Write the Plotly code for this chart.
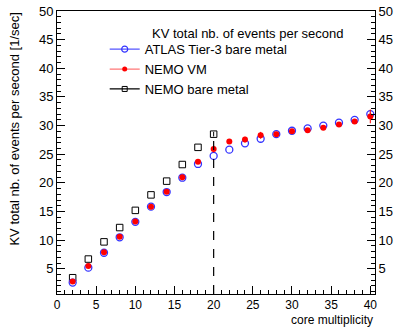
import plotly.graph_objects as go

# ---- data ----
x_atlas = [2, 4, 6, 8, 10, 12, 14, 16, 18, 20, 22, 24, 26, 28, 30, 32, 34, 36, 38, 40]
y_atlas = [2.6, 5.2, 7.8, 10.5, 13.2, 15.85, 18.4, 20.9, 23.3, 24.7, 25.8, 26.9, 27.7, 28.5, 29.1, 29.5, 30.0, 30.5, 31.0, 32.0]
e_atlas = [0, 0, 0, 0, 0, 0, 0, 0, 0, 0, 0, 0, 0, 0, 0, 0, 0, 0, 0, 0.3]

x_vm = [2, 4, 6, 8, 10, 12, 14, 16, 18, 20, 22, 24, 26, 28, 30, 32, 34, 36, 38, 40]
y_vm = [2.8, 5.5, 7.9, 10.6, 13.25, 15.85, 18.45, 21.0, 23.7, 25.9, 27.2, 27.55, 28.3, 28.5, 29.0, 29.2, 29.6, 30.2, 30.7, 31.6]
e_vm = [0, 0.2, 0, 0, 0, 0, 0, 0, 0.3, 0.6, 0, 0.5, 0.6, 0, 0.2, 0.2, 0.3, 0.3, 0.4, 1.2]

x_bare = [2, 4, 6, 8, 10, 12, 14, 16, 18, 20]
y_bare = [3.44, 6.7, 9.7, 12.2, 15.2, 17.9, 20.3, 23.2, 26.2, 28.5]
e_bare = [0, 0, 0, 0, 0, 0, 0, 0, 0, 0.4]

vline_x = 20
vline_top = 28.0

x_range = [0, 40.6]
y_range = [0.6, 50]

legend_header = "KV total nb. of events per second"
names = ["ATLAS Tier-3 bare metal", "NEMO VM", "NEMO bare metal"]
x_title = "core multiplicity"
y_title = "KV total nb. of events per second [1/sec]"

FONT = "Liberation Sans, Arial, sans-serif"

fig = go.Figure()

# data traces (markers only)
fig.add_trace(go.Scatter(x=x_bare, y=y_bare, mode="markers", showlegend=False,
                         marker=dict(symbol="square-open", size=6.5, color="black", line=dict(width=1)),
                         error_y=dict(type="data", array=e_bare, color="black", thickness=1, width=0)))
fig.add_trace(go.Scatter(x=x_atlas, y=y_atlas, mode="markers", showlegend=False,
                         marker=dict(symbol="circle-open", size=7, color="#3333ff", line=dict(width=1.3)),
                         error_y=dict(type="data", array=e_atlas, color="#3333ff", thickness=1, width=0)))
fig.add_trace(go.Scatter(x=x_vm, y=y_vm, mode="markers", showlegend=False,
                         marker=dict(symbol="circle", size=6, color="#ff0000"),
                         error_y=dict(type="data", array=e_vm, color="#ff0000", thickness=1, width=0)))

# legend entries
leg_styles = [
    dict(line=dict(color="#5555ff", width=1.2), marker=dict(symbol="circle-open", size=6, color="#3333ff", line=dict(width=1.2))),
    dict(line=dict(color="#ff7777", width=1.2), marker=dict(symbol="circle", size=5, color="#ff0000")),
    dict(line=dict(color="black", width=1.2), marker=dict(symbol="square-open", size=5, color="black", line=dict(width=1))),
]
for nm, st in zip(names, leg_styles):
    fig.add_trace(go.Scatter(x=[None], y=[None], mode="lines+markers", name=nm, **st))

# invisible trace for right axis
fig.add_trace(go.Scatter(x=[x_range[0]], y=[y_range[0]], yaxis="y2", mode="markers",
                         marker=dict(opacity=0), showlegend=False, hoverinfo="skip"))

fig.add_shape(type="line", xref="x", yref="y", x0=vline_x, x1=vline_x, y0=y_range[0], y1=vline_top,
              line=dict(color="black", width=1.2, dash="dash"))

axis_font = dict(family=FONT, size=13, color="black")
xaxis_font = dict(family=FONT, size=12, color="black")
minor = dict(dtick=1, ticks="inside", ticklen=4, tickcolor="black", tickwidth=1, showgrid=False)
fig.update_layout(
    width=395, height=327,
    margin=dict(l=57, r=20, t=11, b=33, autoexpand=False),
    paper_bgcolor="white", plot_bgcolor="white",
    font=dict(family=FONT, size=13, color="black"),
    xaxis=dict(range=x_range, showgrid=False, zeroline=False, showline=True, linecolor="black", linewidth=1,
               mirror=True, ticks="inside", ticklen=8, tickwidth=1, tickcolor="black", dtick=5, tick0=0,
               tickfont=xaxis_font, automargin=False, minor=minor),
    yaxis=dict(range=y_range, showgrid=False, zeroline=False, showline=True, linecolor="black", linewidth=1,
               ticks="inside", ticklen=8, tickwidth=1, tickcolor="black", dtick=5, tick0=0,
               tickfont=axis_font, automargin=False, minor=minor),
    yaxis2=dict(range=y_range, overlaying="y", side="right", showgrid=False, zeroline=False, showline=True,
                linecolor="black", linewidth=1, ticks="inside", ticklen=8, tickwidth=1, tickcolor="black",
                dtick=5, tick0=0, tickfont=axis_font, automargin=False, minor=minor),
    legend=dict(x=0.15, y=0.918, xanchor="left", yanchor="top", bgcolor="rgba(0,0,0,0)",
                font=dict(family=FONT, size=13, color="black"), tracegroupgap=0, itemwidth=30),
    showlegend=True,
)

fig.add_annotation(text=legend_header, xref="paper", yref="paper", x=0.91, y=0.953,
                   xanchor="right", yanchor="top", showarrow=False,
                   font=dict(family=FONT, size=13, color="black"))
fig.add_annotation(text=x_title, xref="paper", yref="paper", x=1, y=0, yshift=-26, xanchor="right", yanchor="middle",
                   showarrow=False, font=dict(family=FONT, size=12, color="black"))
fig.add_annotation(text=y_title, xref="paper", yref="paper", x=-0.135, y=1.0, xanchor="center", yanchor="top",
                   textangle=-90, showarrow=False, font=dict(family=FONT, size=13, color="black"))

fig.write_html("out.html")
